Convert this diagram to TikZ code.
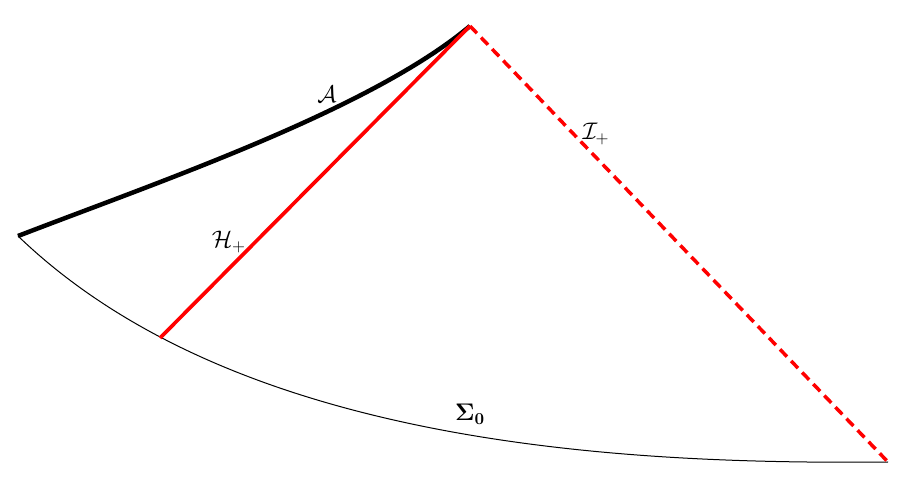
\documentclass[tikz,border=0pt]{standalone}
\usepackage{amsmath}
\usepackage{amssymb}
\usepackage{tikz}
\usetikzlibrary{calc}

\begin{document}
\begin{tikzpicture}[x=0.6pt,y=-0.6pt,every node/.style={font=\Large}]
\useasboundingbox (0,0) rectangle (900,477);
\coordinate (top) at (470,26);
\coordinate (left) at (18,236);
\coordinate (hbot) at (160,338);
\coordinate (right) at (888,462);
% boundary curves
\draw[line width=0.6pt] (left) .. controls (230,440) and (600,465) .. (right);
\draw[line width=2.7pt] (left) .. controls (158,182) and (370,110) .. (top);
% horizon and null infinity
\draw[red,line width=2.2pt] (hbot) -- (top);
\draw[red,line width=2.1pt,dash pattern=on 6pt off 3.6pt] (top) -- (right);
\node (A) at (327,94) {$\mathcal{A}$};
\node (I) at (596,134) {$\mathcal{I}_+$};
\node (H) at (229,242) {$\mathcal{H}_+$};
\node (S) at (470,414) {$\mathbf{\Sigma_0}$};
\end{tikzpicture}
\end{document}
